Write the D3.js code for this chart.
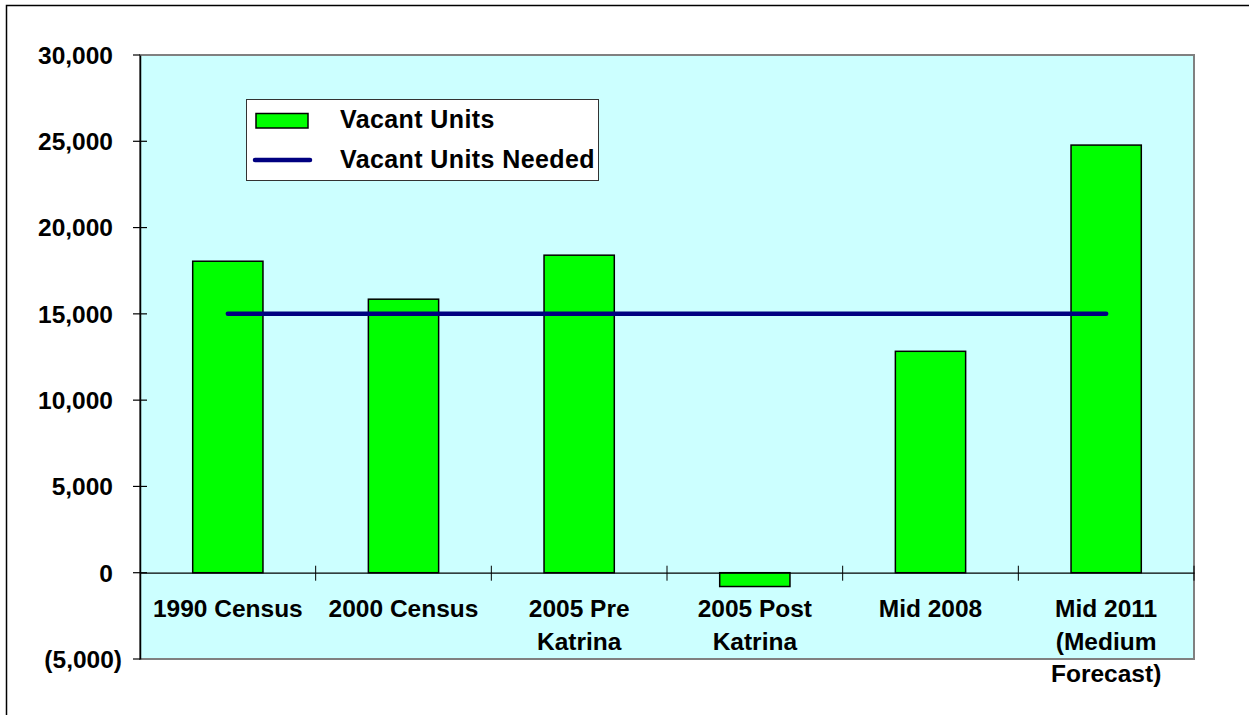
<!DOCTYPE html>
<html>
<head>
<meta charset="utf-8">
<script src="https://cdn.jsdelivr.net/npm/d3@7"></script>
<style>
  html, body { margin: 0; padding: 0; background: #fff; }
  svg { display: block; }
  text { font-family: "Liberation Sans", Arial, sans-serif; font-weight: bold; fill: #000; }
</style>
</head>
<body>
<svg id="chart" width="1249" height="715"></svg>
<script>
// ---- data ----
const categories = ["1990 Census", "2000 Census", "2005 Pre Katrina", "2005 Post Katrina", "Mid 2008", "Mid 2011 (Medium Forecast)"];
const categoryLines = [["1990 Census"], ["2000 Census"], ["2005 Pre", "Katrina"], ["2005 Post", "Katrina"], ["Mid 2008"], ["Mid 2011", "(Medium", "Forecast)"]];
const vacantUnits = [18050, 15850, 18400, -800, 12830, 24780];
const vacantUnitsNeeded = [15000, 15000, 15000, 15000, 15000, 15000];
const yTicks = [-5000, 0, 5000, 10000, 15000, 20000, 25000, 30000];
const seriesNames = ["Vacant Units", "Vacant Units Needed"];

// ---- layout ----
const svg = d3.select("#chart");
const plot = { left: 140, right: 1194, top: 55, bottom: 659 };

svg.append("rect").attr("x", 6.5).attr("y", 5.5).attr("width", 1260).attr("height", 730)
  .attr("fill", "none").attr("stroke", "#000").attr("stroke-width", 1.5);

const x = d3.scaleBand().domain(categories).range([plot.left, plot.right])
  .paddingInner(0.6).paddingOuter(0.3);
const y = d3.scaleLinear().domain([-5000, 30000]).range([plot.bottom, plot.top]);

// plot background
svg.append("rect").attr("x", plot.left).attr("y", plot.top)
  .attr("width", plot.right - plot.left).attr("height", plot.bottom - plot.top)
  .attr("fill", "#CCFFFF").attr("stroke", "#808080").attr("stroke-width", 2);

// bars
svg.append("g").selectAll("rect").data(vacantUnits).join("rect")
  .attr("x", (d, i) => x(categories[i]))
  .attr("width", x.bandwidth())
  .attr("y", d => y(Math.max(0, d)))
  .attr("height", d => Math.abs(y(d) - y(0)))
  .attr("fill", "#00FF00").attr("stroke", "#000").attr("stroke-width", 1.5);

// y axis
const fmt = d3.format(",");
const yAxis = d3.axisLeft(y).tickValues(yTicks).tickSize(0).tickFormat("");
svg.append("g").attr("transform", `translate(${plot.left},0)`).call(yAxis)
  .call(g => g.select(".domain").attr("stroke", "#000").attr("stroke-width", 1.5));
svg.append("g").selectAll("line").data(yTicks).join("line")
  .attr("x1", plot.left - 7).attr("x2", d => (d === 30000 || d === -5000) ? plot.left : plot.left + 7)
  .attr("y1", d => y(d)).attr("y2", d => y(d))
  .attr("stroke", "#000").attr("stroke-width", 1.2);
svg.append("g").selectAll("text").data(yTicks).join("text")
  .attr("x", d => d < 0 ? 122 : 113)
  .attr("y", d => y(d))
  .attr("dy", "0.36em")
  .attr("text-anchor", "end")
  .attr("font-size", 24.5)
  .text(d => d < 0 ? "(" + fmt(-d) + ")" : fmt(d));

// x axis at zero
const xAxis = d3.axisBottom(x).tickSize(0).tickFormat("");
svg.append("g").attr("transform", `translate(0,${y(0)})`).call(xAxis)
  .call(g => g.select(".domain").attr("stroke", "#000").attr("stroke-width", 1.2));
const bounds = categories.slice(1).map(c => x(c) - x.step() * x.paddingInner() / 2).concat([plot.right]);
svg.append("g").selectAll("line").data(bounds).join("line")
  .attr("x1", d => d).attr("x2", d => d)
  .attr("y1", y(0) - 7).attr("y2", y(0) + 8)
  .attr("stroke", "#000").attr("stroke-width", 1);

// category labels
const lab = svg.append("g").selectAll("text").data(categories).join("text")
  .attr("text-anchor", "middle").attr("font-size", 24.5)
  .attr("transform", c => `translate(${x(c) + x.bandwidth() / 2},617)`);
lab.selectAll("tspan").data((c, i) => categoryLines[i]).join("tspan")
  .attr("x", 0).attr("y", (d, i) => i * 32.5).text(d => d);

// needed line
const line = d3.line().x((d, i) => x(categories[i]) + x.bandwidth() / 2).y(d => y(d));
svg.append("path").datum(vacantUnitsNeeded).attr("d", line)
  .attr("fill", "none").attr("stroke", "#000080").attr("stroke-width", 4.5)
  .attr("stroke-linecap", "round");

// legend
const lg = svg.append("g");
lg.append("rect").attr("x", 246.5).attr("y", 99.5).attr("width", 352).attr("height", 81)
  .attr("fill", "#fff").attr("stroke", "#333").attr("stroke-width", 1);
lg.append("rect").attr("x", 256).attr("y", 113.5).attr("width", 52).attr("height", 14.5)
  .attr("fill", "#00FF00").attr("stroke", "#000").attr("stroke-width", 1.5);
lg.append("line").attr("x1", 255).attr("x2", 310).attr("y1", 160).attr("y2", 160)
  .attr("stroke", "#000080").attr("stroke-width", 4.5).attr("stroke-linecap", "round");
lg.append("text").attr("x", 340).attr("y", 128).attr("font-size", 25).attr("letter-spacing", 0.4).text(seriesNames[0]);
lg.append("text").attr("x", 340).attr("y", 168).attr("font-size", 25).attr("letter-spacing", 0.4).text(seriesNames[1]);
</script>
</body>
</html>
